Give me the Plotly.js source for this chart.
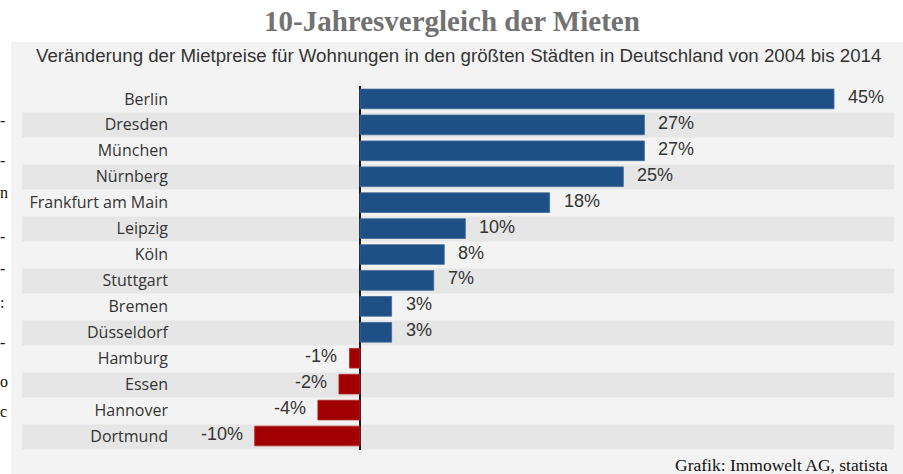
<!DOCTYPE html>
<html>
<head>
<meta charset="utf-8">
<script src="https://cdn.plot.ly/plotly-3.0.1.min.js"></script>
<style>html,body{margin:0;padding:0;background:#fff;}#chart{width:903px;height:474px;}</style>
</head>
<body>
<div id="chart"></div>
<script>
// Data
var cities = ["Berlin","Dresden","München","Nürnberg","Frankfurt am Main","Leipzig","Köln","Stuttgart","Bremen","Düsseldorf","Hamburg","Essen","Hannover","Dortmund"];
var changePct = [45,27,27,25,18,10,8,7,3,3,-1,-2,-4,-10];
var valueLabels = ["45%","27%","27%","25%","18%","10%","8%","7%","3%","3%","-1%","-2%","-4%","-10%"];
var titleText = "10-Jahresvergleich der Mieten";
var subtitleText = "Veränderung der Mietpreise für Wohnungen in den größten Städten in Deutschland von 2004 bis 2014";
var sourceText = "Grafik: Immowelt AG, statista";
var marginGlyphs = ["-","-","n","-","-",":","-","o","c"];
var marginGlyphY = [120,160,192,236,268,302,342,381,411];

var W = 903, H = 474;
var L = 180, R = 8, T = 86, B = 24;
var pw = W - L - R, ph = H - T - B;
function px2x(p){ return (p - L) / pw; }
function px2y(p){ return 1 - (p - T) / ph; }
var rowH = ph / cities.length;

var shapes = [];
// panel background
shapes.push({type:"rect", xref:"paper", yref:"paper", layer:"below",
  x0:px2x(11), x1:px2x(903), y0:px2y(42), y1:px2y(474),
  fillcolor:"#f3f3f3", line:{width:0}});
// alternating bands
cities.forEach(function(c,i){
  if (i % 2 === 1) {
    var cy = T + rowH*(i+0.5);
    shapes.push({type:"rect", xref:"paper", yref:"paper", layer:"below",
      x0:px2x(22), x1:px2x(894), y0:px2y(cy-12.5), y1:px2y(cy+12.5),
      fillcolor:"#e6e6e6", line:{width:0}});
  }
});

var annotations = [];
annotations.push({xref:"paper", yref:"paper", x:px2x(452), y:px2y(21), xanchor:"center", yanchor:"middle",
  text:"<b>"+titleText+"</b>", showarrow:false, font:{family:"Liberation Serif, serif", size:29, color:"#727272"}});
annotations.push({xref:"paper", yref:"paper", x:px2x(34), y:px2y(55), xanchor:"left", yanchor:"middle",
  text:subtitleText, showarrow:false, font:{family:"Liberation Sans, Arial, sans-serif", size:18.7, color:"#333"}});
annotations.push({xref:"paper", yref:"paper", x:px2x(673), y:px2y(465), xanchor:"left", yanchor:"middle",
  text:sourceText, showarrow:false, font:{family:"Liberation Serif, serif", size:17.5, color:"#111"}});
cities.forEach(function(c,i){
  var v = changePct[i];
  annotations.push({xref:"x", yref:"y", x:v, y:c, showarrow:false,
    xanchor: v >= 0 ? "left" : "right", xshift: v >= 0 ? 12 : -10, yshift:2,
    text:valueLabels[i], font:{family:"Liberation Sans, Arial, sans-serif", size:18, color:"#333"}});
});
marginGlyphs.forEach(function(g,i){
  annotations.push({xref:"paper", yref:"paper", x:px2x(-2), y:px2y(marginGlyphY[i]), xanchor:"left", yanchor:"middle",
    text:g, showarrow:false, font:{family:"Liberation Serif, serif", size:16, color:"#111"}});
});

var trace = {
  type:"bar", orientation:"h", x:changePct, y:cities,
  marker:{color:changePct.map(function(v){return v>=0?"#1e5086":"#a00000";}),
          line:{color:changePct.map(function(v){return v>=0?"#3d6a99":"#b52a2a";}), width:0.8}},
  hoverinfo:"none"
};

var layout = {
  width:W, height:H,
  margin:{l:L, r:R, t:T, b:B, pad:0},
  paper_bgcolor:"#ffffff", plot_bgcolor:"rgba(0,0,0,0)",
  showlegend:false,
  bargap:0.24,
  xaxis:{range:[-17.09,50.79], showgrid:false, showticklabels:false, zeroline:true,
         zerolinecolor:"#1a1a1a", zerolinewidth:1.5, fixedrange:true},
  yaxis:{type:"category", autorange:"reversed", showgrid:false, zeroline:false, ticks:"",
         ticklabelstandoff:11,
         tickfont:{family:"Open Sans, Noto Sans, sans-serif", size:16, color:"#333"}, fixedrange:true},
  shapes:shapes,
  annotations:annotations
};

Plotly.newPlot("chart", [trace], layout, {displayModeBar:false, staticPlot:true});
</script>
</body>
</html>
